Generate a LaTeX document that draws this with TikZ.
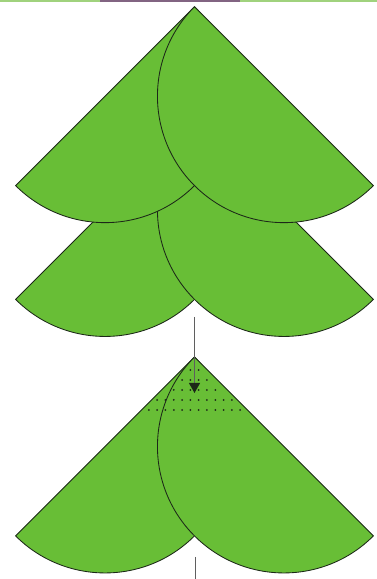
\documentclass[tikz,border=0pt]{standalone}
\usetikzlibrary{arrows.meta}
\definecolor{leaf}{RGB}{104,190,54}
\definecolor{edgecol}{RGB}{28,40,24}
\definecolor{guide}{RGB}{95,95,95}
\definecolor{bandgreen}{RGB}{160,210,125}
\definecolor{bandpurple}{RGB}{130,100,130}
\newcommand{\drawtier}[1]{%
  \path[lobe] (194.5,#1) arc[start angle=45,end angle=-135,radius=126.5] -- cycle;
  \path[lobe] (194.5,#1) arc[start angle=135,end angle=315,radius=126.5] -- cycle;
}
\begin{document}
\begin{tikzpicture}[x=1pt,y=1pt,
  lobe/.style={fill=leaf,draw=edgecol,line width=0.85pt,line join=round},
  guideline/.style={draw=guide,line width=0.9pt},
  dotmark/.style={fill=edgecol}]
\useasboundingbox (0,0) rectangle (377,579);
% thin band at the top
\fill[bandgreen] (0,577) rectangle (377,579);
\fill[bandpurple] (100,577) rectangle (240,579);
% upper tree: middle tier first, then top tier over it
\drawtier{458.5}
\drawtier{572.3}
% lower figure
\drawtier{222}
% dotted area near the apex of the lower figure
\foreach \yy in {370,380,390,400,410}{
  \foreach \k in {0,...,6}{
    \pgfmathsetmacro\ddx{4.15+8.3*\k}
    \pgfmathsetmacro\dlim{\yy-357-5}
    \pgfmathtruncatemacro\okdot{\ddx<=\dlim ? 1 : 0}
    \ifnum\okdot=1
      \fill[dotmark] (194.5+\ddx,579-\yy) circle[radius=1pt];
      \fill[dotmark] (194.5-\ddx,579-\yy) circle[radius=1pt];
    \fi
  }
}
% arrow
\coordinate (arrtop) at (194.5,262);
\coordinate (arrtip) at (194.5,186);
\draw[guideline,-{Triangle[width=11pt,length=10pt,color=edgecol]}] (arrtop) -- (arrtip);
% lower guide line
\coordinate (lowtop) at (195,22);
\coordinate (lowbot) at (195,0);
\draw[guideline] (lowtop) -- (lowbot);
\end{tikzpicture}
\end{document}
